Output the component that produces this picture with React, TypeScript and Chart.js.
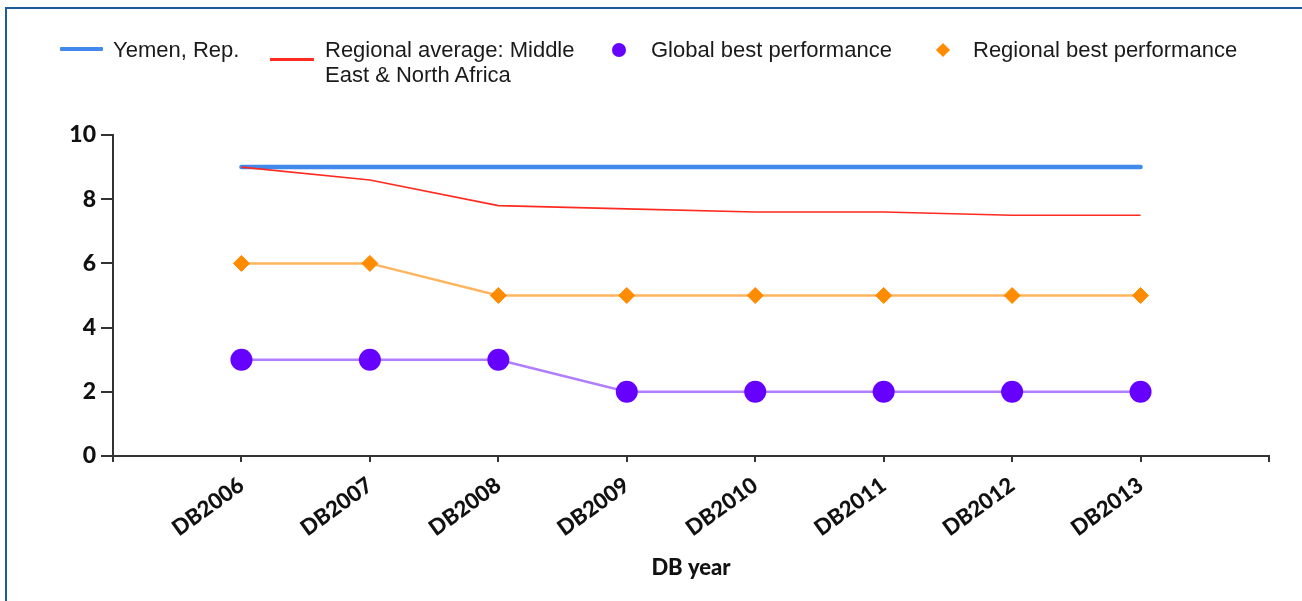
import React, { useEffect, useRef } from 'react';
import { Chart, registerables } from 'chart.js';

Chart.register(...registerables);

// ---- data ----
const categories = ['DB2006', 'DB2007', 'DB2008', 'DB2009', 'DB2010', 'DB2011', 'DB2012', 'DB2013'];
const yemen = [9, 9, 9, 9, 9, 9, 9, 9];
const regionalAverage = [9.0, 8.6, 7.8, 7.7, 7.6, 7.6, 7.5, 7.5];
const globalBest = [3, 3, 3, 2, 2, 2, 2, 2];
const regionalBest = [6, 6, 5, 5, 5, 5, 5, 5];
const yTicks = [0, 2, 4, 6, 8, 10];
const xTitle = 'DB year';
const legendNames = ['Yemen, Rep.', 'Regional average: Middle East & North Africa', 'Global best performance', 'Regional best performance'];

// padded with empty slots at each end (axis extends one category beyond data)
const labels = ['', ...categories, ''];
const pad = (arr: number[]) => [null, ...arr, null];

const BLUE = '#4189ec';
const RED = '#ff2a20';
const PURPLE_LINE = '#b07eff';
const PURPLE = '#6600ff';
const ORANGE_LINE = '#ffb45e';
const ORANGE = '#ff8c00';
const AXIS = '#333333';
const TEXT = '#111111';
const tickFont = { family: 'Lato', weight: '900' as any, size: 22 };

export default function App() {
  const canvasRef = useRef<HTMLCanvasElement | null>(null);

  useEffect(() => {
    if (!canvasRef.current) return;
    const chart = new Chart(canvasRef.current, {
      type: 'line',
      data: {
        labels,
        datasets: [
          {
            label: legendNames[2],
            data: pad(globalBest),
            borderColor: PURPLE_LINE,
            backgroundColor: PURPLE,
            borderWidth: 2.5,
            pointStyle: 'circle',
            pointRadius: 11,
            pointBorderWidth: 0,
            pointBackgroundColor: PURPLE,
            tension: 0,
            clip: false as any,
          },
          {
            label: legendNames[3],
            data: pad(regionalBest),
            borderColor: ORANGE_LINE,
            backgroundColor: ORANGE,
            borderWidth: 2.5,
            pointStyle: 'rectRot',
            pointRadius: 8,
            pointBorderWidth: 1,
            pointBorderColor: ORANGE,
            pointBackgroundColor: ORANGE,
            tension: 0,
            clip: false as any,
          },
          {
            label: legendNames[1],
            data: pad(regionalAverage),
            borderColor: RED,
            borderWidth: 1.6,
            pointRadius: 0,
            tension: 0,
            clip: false as any,
          },
          {
            label: legendNames[0],
            data: pad(yemen),
            borderColor: BLUE,
            borderWidth: 4.5,
            borderCapStyle: 'round',
            pointRadius: 0,
            tension: 0,
            clip: false as any,
          },
        ],
      },
      options: {
        responsive: false,
        animation: false,
        devicePixelRatio: 1,
        layout: { padding: { left: 0, top: 135, right: 33, bottom: 0 } },
        plugins: {
          legend: { display: false },
          tooltip: { enabled: false },
        },
        scales: {
          x: {
            type: 'category',
            offset: false,
            grid: {
              display: true,
              drawOnChartArea: false,
              drawTicks: true,
              tickLength: 6,
              color: AXIS,
              lineWidth: 2,
            },
            border: { display: true, color: AXIS, width: 2 },
            ticks: {
              autoSkip: false,
              minRotation: 36,
              maxRotation: 36,
              padding: 10,
              color: TEXT,
              font: tickFont,
            },
            title: {
              display: true,
              text: xTitle,
              color: TEXT,
              font: tickFont,
              padding: { top: 0, bottom: 20 },
            },
            afterFit: (s: any) => {
              s.height = 145;
            },
          },
          y: {
            min: 0,
            max: 10,
            grid: {
              display: true,
              drawOnChartArea: false,
              drawTicks: true,
              tickLength: 12,
              color: AXIS,
              lineWidth: 2,
            },
            border: { display: true, color: AXIS, width: 2 },
            ticks: {
              padding: 5,
              color: TEXT,
              font: { ...tickFont, size: 23 },
            },
            afterBuildTicks: (s: any) => {
              s.ticks = yTicks.map((v) => ({ value: v }));
            },
            afterFit: (s: any) => {
              s.width = 113;
            },
          },
        },
      } as any,
    });
    return () => chart.destroy();
  }, []);

  const legendText: React.CSSProperties = {
    position: 'absolute',
    top: 37,
    fontFamily: '"Liberation Sans", Arial, sans-serif',
    fontSize: 22,
    lineHeight: '25px',
    color: '#1a1a1a',
    whiteSpace: 'nowrap',
  };

  return (
    <div
      style={{
        position: 'absolute',
        left: 0,
        top: 0,
        width: 1302,
        height: 601,
        overflow: 'hidden',
        background: '#ffffff',
      }}
    >
      <div
        style={{
          position: 'absolute',
          left: 5,
          top: 7,
          width: 1400,
          height: 700,
          borderTop: '2px solid #1f5b9c',
          borderLeft: '2px solid #1f5b9c',
        }}
      />
      <canvas ref={canvasRef} width={1302} height={601} style={{ position: 'absolute', left: 0, top: 0, width: 1302, height: 601 }} />

      {/* legend */}
      <div style={{ position: 'absolute', left: 60, top: 47, width: 43, height: 4, background: BLUE, borderRadius: 1 }} />
      <div style={{ ...legendText, left: 113 }}>{legendNames[0]}</div>

      <div style={{ position: 'absolute', left: 270, top: 58, width: 44, height: 3, background: RED }} />
      <div style={{ ...legendText, left: 325 }}>
        Regional average: Middle
        <br />
        East &amp; North Africa
      </div>

      <div style={{ position: 'absolute', left: 612, top: 43, width: 14, height: 14, borderRadius: '50%', background: PURPLE }} />
      <div style={{ ...legendText, left: 651 }}>{legendNames[2]}</div>

      <div
        style={{
          position: 'absolute',
          left: 938,
          top: 45,
          width: 10,
          height: 10,
          background: ORANGE,
          transform: 'rotate(45deg)',
        }}
      />
      <div style={{ ...legendText, left: 973 }}>{legendNames[3]}</div>
    </div>
  );
}
